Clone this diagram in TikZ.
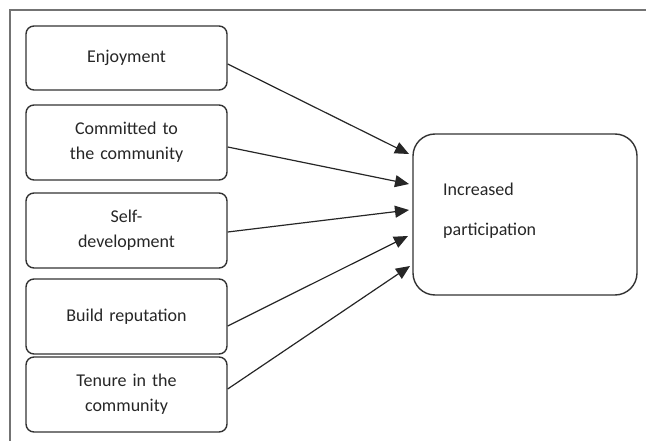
\documentclass[tikz,border=0pt]{standalone}
\usepackage{fontspec}
\setmainfont{Carlito}
\usetikzlibrary{arrows.meta,calc}
\begin{document}
\begin{tikzpicture}[x=1pt,y=-1pt,
  frameline/.style={draw=black!55, line width=1.5pt},
  leftbox/.style={draw=black!80, line width=1.4pt, rounded corners=8pt,
    minimum width=201pt, inner sep=0pt, align=center, text width=190pt,
    font=\fontsize{18}{25}\selectfont, text=black!85},
  bigbox/.style={draw=black!80, line width=1.4pt, rounded corners=22pt,
    minimum width=224pt, minimum height=161pt, inner sep=0pt},
  bigtext/.style={inner sep=0pt, align=left, text width=130pt,
    font=\fontsize{18}{40}\selectfont, text=black!85},
  conn/.style={draw=black!85, line width=1.2pt,
    -{Triangle[length=14pt,width=12pt]}}
]
\useasboundingbox (0,0) rectangle (646,441);
\draw[frameline] (646,10) -- (10,10) -- (10,441);

\node[leftbox, minimum height=64pt] (b1) at (126.5,58) {\raisebox{-3pt}{Enjoyment}};
\node[leftbox, minimum height=75pt] (b2) at (126.5,142.5) {Committed to\\the community};
\node[leftbox, minimum height=75pt] (b3) at (126.5,230.5) {Self-\\development};
\node[leftbox, minimum height=75pt] (b4) at (126.5,316.5) {Build reputation};
\node[leftbox, minimum height=75pt] (b5) at (126.5,394.5) {Tenure in the\\community};

\node[bigbox] (rb) at (525,214.5) {};
\node[bigtext, anchor=west] (rbt) at (443,210.5) {Increased\\participation};

\coordinate (t1) at (409,154);
\coordinate (t2) at (409,184);
\coordinate (t3) at (409,210);
\coordinate (t4) at (408,236);
\coordinate (t5) at (410,266);

\draw[conn] ($(b1.east)+(0,6)$) -- (t1);
\draw[conn] ($(b2.east)+(0,4.5)$) -- (t2);
\draw[conn] ($(b3.east)+(0,1.5)$) -- (t3);
\draw[conn] ($(b4.east)+(0,9.5)$) -- (t4);
\draw[conn] ($(b5.east)+(0,-5.5)$) -- (t5);
\end{tikzpicture}
\end{document}
